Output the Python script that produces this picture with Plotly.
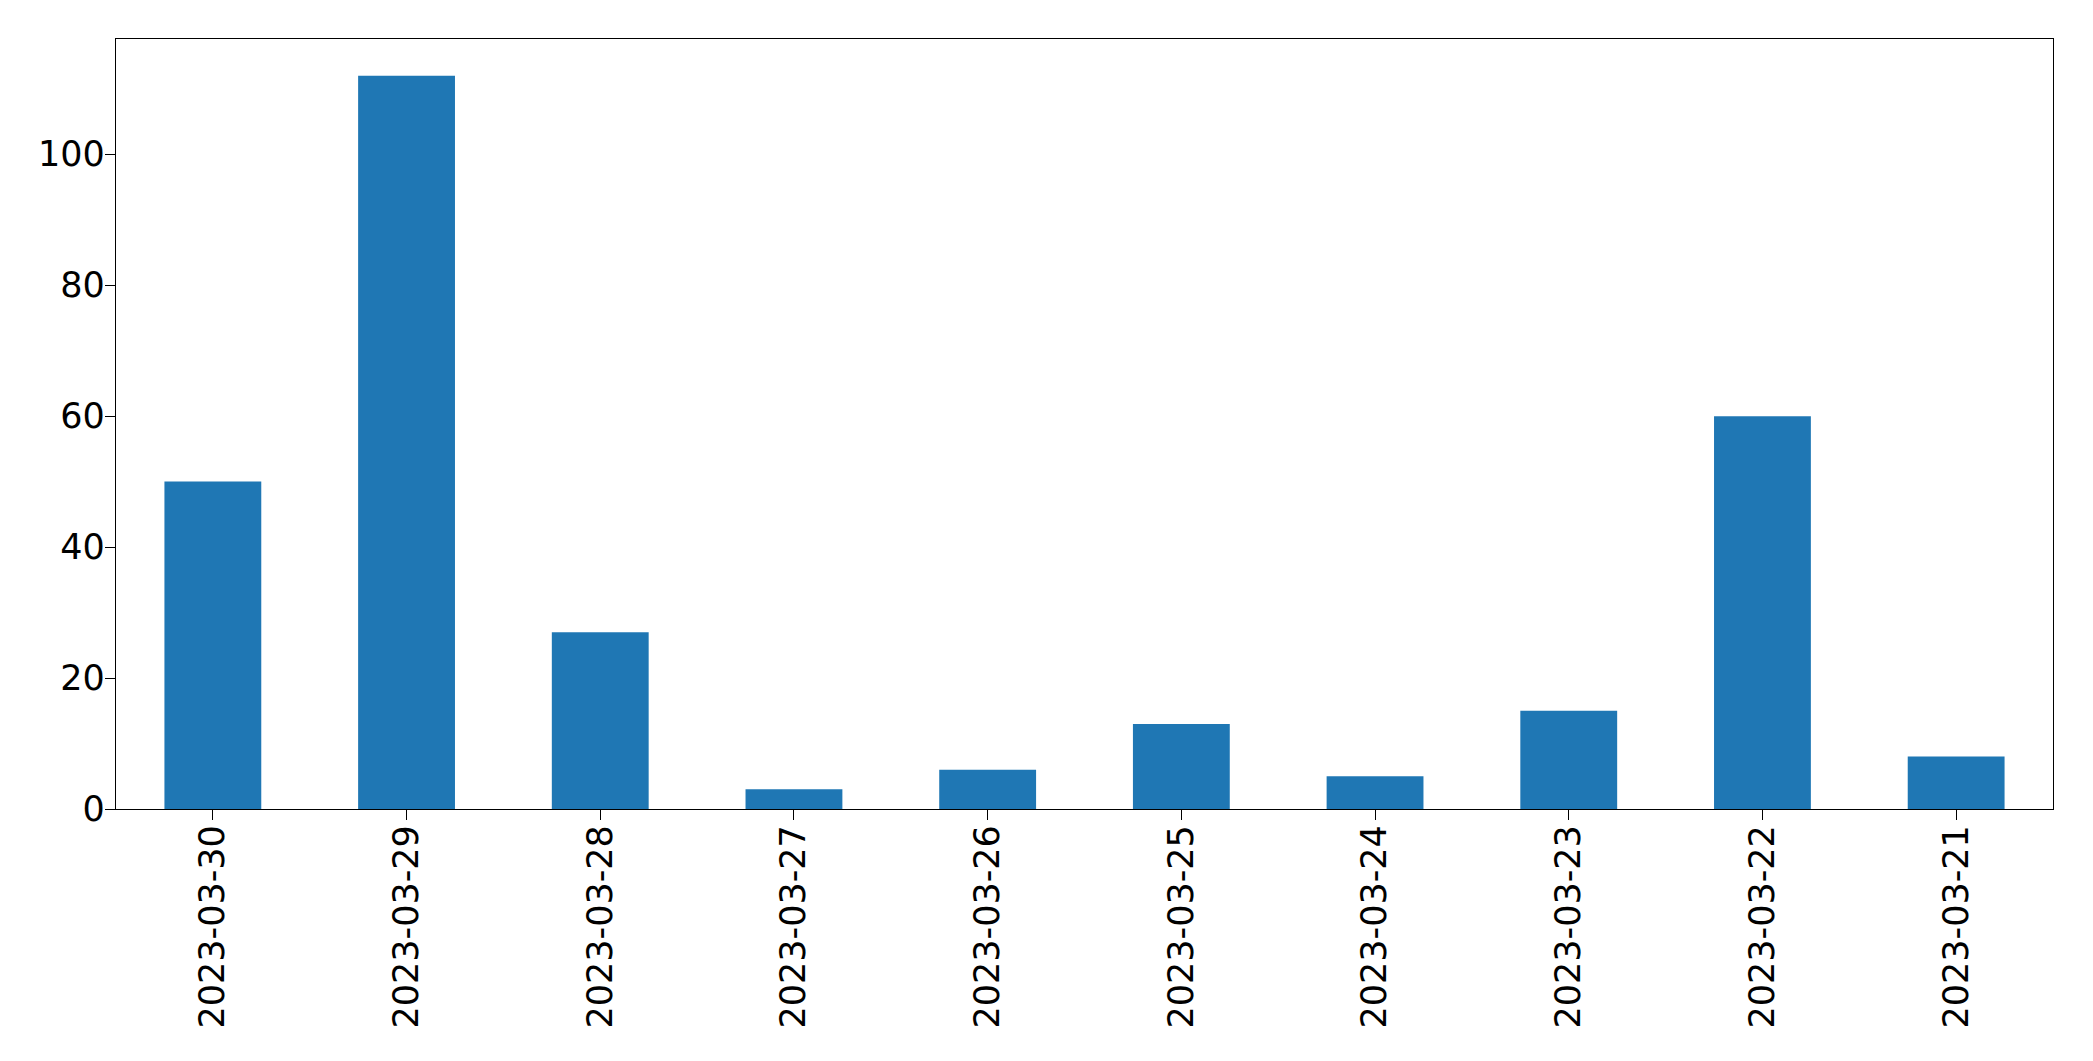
import plotly.graph_objects as go

# Data
dates = ["2023-03-30", "2023-03-29", "2023-03-28", "2023-03-27", "2023-03-26",
         "2023-03-25", "2023-03-24", "2023-03-23", "2023-03-22", "2023-03-21"]
counts = [50, 112, 27, 3, 6, 13, 5, 15, 60, 8]

fig = go.Figure()

fig.add_trace(
    go.Bar(x=dates, y=counts, width=0.5, marker=dict(color="#1f77b4", line=dict(width=0)))
)

axis_style = dict(
    showline=True, linecolor="black", linewidth=1.3, mirror=True,
    ticks="outside", ticklen=10, tickwidth=1.3, tickcolor="black",
    showgrid=False, zeroline=False,
    tickfont=dict(family="DejaVu Sans", size=35, color="black"),
)

fig.update_xaxes(type="category", range=[-0.5, 9.5], tickangle=-90,
                 ticklabelstandoff=-9, **axis_style)
fig.update_yaxes(range=[0, 117.6], tickvals=[0, 20, 40, 60, 80, 100],
                 ticklabelstandoff=-7, **axis_style)

# page body adds ~8px offset, so margins are trimmed accordingly
fig.update_layout(
    width=2093, height=1061,
    margin=dict(l=108, r=48, t=31, b=260),
    plot_bgcolor="white", paper_bgcolor="white",
    showlegend=False,
)

fig.write_html("out.html")
